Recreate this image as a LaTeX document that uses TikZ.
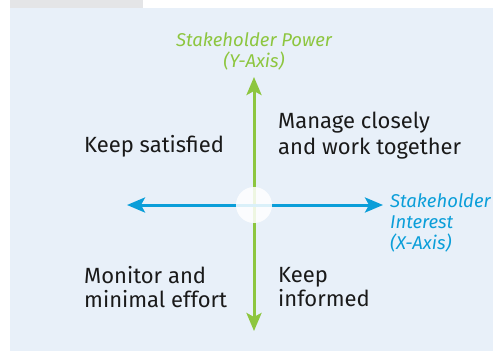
\documentclass[tikz,border=0pt]{standalone}
\usepackage{fontspec}
\setmainfont{Fira Sans}
\usetikzlibrary{arrows.meta}
\definecolor{panelbg}{HTML}{E8F0F9}
\definecolor{tabgrey}{HTML}{E4E5E7}
\definecolor{powergreen}{HTML}{8DC63F}
\definecolor{interestblue}{HTML}{0A9ED9}
\definecolor{inktext}{HTML}{1A1A1A}
\begin{document}
\begin{tikzpicture}[x=1pt,y=-1pt,
  axisline/.style={line width=3pt,-{Stealth[length=18pt,width=15pt,inset=4pt]}},
  axislabel/.style={font=\fontsize{18.5}{21}\selectfont\itshape,align=center,inner sep=0pt},
  quadtext/.style={font=\fontsize{22}{24}\selectfont,text=inktext,align=left,inner sep=0pt,anchor=west}]
  \useasboundingbox (0,0) rectangle (493,351);
  \fill[white] (0,0) rectangle (493,351);
  % tab and panel
  \fill[tabgrey] (9.5,0) rectangle (143,8);
  \fill[panelbg] (9.5,8) rectangle (493,351);
  % centre point and axis ends
  \coordinate (o) at (254,205);
  \coordinate (ytop) at (254,77);
  \coordinate (ybot) at (254,331);
  \coordinate (xleft) at (127,205);
  \coordinate (xright) at (383,205);
  \draw[axisline,powergreen] (o) -- (ytop);
  \draw[axisline,powergreen] (o) -- (ybot);
  \draw[axisline,interestblue] (o) -- (xleft);
  \draw[axisline,interestblue] (o) -- (xright);
  \node[circle,fill=white,fill opacity=0.85,minimum size=36pt,inner sep=0pt] (hub) at (o) {};
  % axis labels
  \node[axislabel,text=powergreen] (ylab) at (254,51) {Stakeholder Power\\(Y-Axis)};
  \node[axislabel,text=interestblue,align=left,anchor=north west] (xlab) at (390,193) {Stakeholder\\Interest\\(X-Axis)};
  % quadrant texts
  \node[quadtext] (q1) at (84,146) {Keep satisfied};
  \node[quadtext,font=\fontsize{22}{25.5}\selectfont] (q2) at (278,135.5) {Manage closely\\and work together};
  \node[quadtext] (q3) at (84,287) {Monitor and\\minimal effort};
  \node[quadtext] (q4) at (278,287) {Keep\\informed};
\end{tikzpicture}
\end{document}
